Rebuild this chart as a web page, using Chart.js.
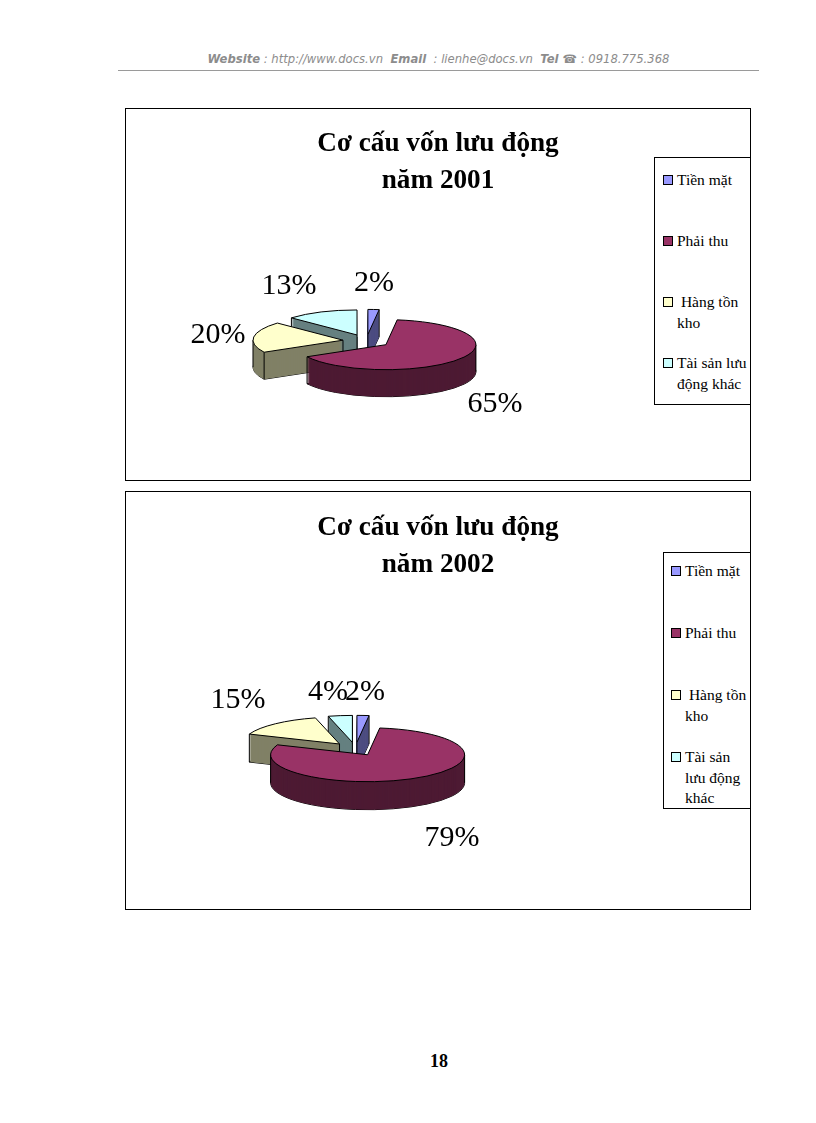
<!DOCTYPE html>
<html lang="vi">
<head>
<meta charset="utf-8">
<title>Cơ cấu vốn lưu động</title>
<script src="https://cdn.jsdelivr.net/npm/chart.js@4"></script>
<style>
    html, body { margin: 0; padding: 0; background: #fff; }
    body { position: relative; width: 816px; height: 1123px; overflow: hidden; font-family: "Liberation Serif", serif; color: #000; }
    .header { position: absolute; left: 118px; width: 641px; top: 52px; height: 18px; text-align: center; font: italic 11.6px "DejaVu Sans", sans-serif; color: #8c8c8c; white-space: pre; }
    .rule { position: absolute; left: 118px; width: 641px; top: 70px; height: 1px; background: #9a9a9a; }
    .box { position: absolute; left: 125px; width: 624px; border: 1px solid #000; }
    .box canvas { position: absolute; left: 0; top: 0; }
    .legend { position: absolute; background: #fff; border: 1px solid #000; border-right: 0; box-sizing: border-box; }
    .legend span { position: absolute; font-size: 15.5px; line-height: 18px; white-space: pre; }
    .legend i { position: absolute; width: 8px; height: 8px; border: 1px solid #000; }
    .page { position: absolute; left: 0; width: 878px; top: 1051px; text-align: center; font: bold 18px "Liberation Serif", serif; }
</style>
</head>
<body>
<div class="header"><b>Website</b> : http://www.docs.vn  <b>Email</b>  : lienhe@docs.vn  <b>Tel ☎</b> : 0918.775.368</div>
<div class="rule"></div>

<div class="box" id="box1" style="top:108px;height:371px"><canvas id="chart1" width="624" height="371"></canvas></div>
<div class="box" id="box2" style="top:491px;height:417px"><canvas id="chart2" width="624" height="417"></canvas></div>

<div class="page">18</div>

<script>
const categories = ['Tiền mặt', 'Phải thu', 'Hàng tồn kho', 'Tài sản lưu động khác'];
const values2001 = [2, 65, 20, 13];
const values2002 = [2, 79, 15, 4];
const colors = ['#9999ff', '#993366', '#ffffcc', '#ccffff'];
const sideColors = ['#4d4d80', '#4d1a33', '#808066', '#668080'];
const titles2001 = ['Cơ cấu vốn lưu động', 'năm 2001'];
const titles2002 = ['Cơ cấu vốn lưu động', 'năm 2002'];

// legend text is broken by hand, like in the picture
const legendLines2001 = [['Tiền mặt'], ['Phải thu'], [' Hàng tồn', 'kho'], ['Tài sản lưu', 'động khác']];
const legendLines2002 = [['Tiền mặt'], ['Phải thu'], [' Hàng tồn', 'kho'], ['Tài sản', 'lưu động', 'khác']];

// Chart.js has no 3D pie, so this plugin takes over the drawing of the arcs:
// squashes them, pulls the slices out and stacks darker copies for the side
const pie3d = {
    id: 'pie3d',
    beforeDatasetsDraw(chart, args, opts) {
        const ctx = chart.ctx;
        const arcs = chart.getDatasetMeta(0).data;
        const k = opts.squash;

        opts.order.forEach(i => {
            const arc = arcs[i];
            const mid = (arc.startAngle + arc.endAngle) / 2;
            const x = opts.center[0] + Math.cos(mid) * opts.explode;
            const y = opts.center[1] + Math.sin(mid) * opts.explode * k;
            const r = arc.outerRadius;

            const fill = (dy, color) => {
                const flat = Object.create(arc);
                flat.options = Object.assign({}, arc.options, { backgroundColor: color, borderWidth: 0 });
                ctx.save();
                ctx.translate(x, y + dy);
                ctx.scale(1, k);
                ctx.translate(-arc.x, -arc.y);
                flat.draw(ctx);
                ctx.restore();
            };
            const outline = (dy) => {
                ctx.beginPath();
                ctx.moveTo(x, y + dy);
                ctx.ellipse(x, y + dy, r, r * k, 0, arc.startAngle, arc.endAngle);
                ctx.closePath();
                ctx.stroke();
            };
            const edge = (px, py) => {
                ctx.beginPath();
                ctx.moveTo(px, py);
                ctx.lineTo(px, py + opts.depth);
                ctx.stroke();
            };
            const rimEdge = (a) => edge(x + Math.cos(a) * r, y + Math.sin(a) * r * k);

            ctx.strokeStyle = '#000';
            ctx.lineWidth = 1;
            outline(opts.depth);
            for (let d = opts.depth; d > 0; d--) fill(d, sideColors[i]);

            // upright edges of the cut faces and of the rim
            const cutVisible = Math.cos(arc.startAngle) < 0 || Math.cos(arc.endAngle) > 0;
            if (cutVisible) edge(x, y);
            [arc.startAngle, arc.endAngle].forEach((a, n) => {
                const faceShown = n === 0 ? Math.cos(a) < 0 : Math.cos(a) > 0;
                if (faceShown || Math.sin(a) > 0) rimEdge(a);
            });
            [0, Math.PI, 2 * Math.PI].forEach(a => {
                if (a > arc.startAngle && a < arc.endAngle) rimEdge(a);
            });

            fill(0, colors[i]);
            outline(0);
        });

        // percent labels
        ctx.save();
        ctx.fillStyle = '#000';
        ctx.font = '30px "Liberation Serif", serif';
        ctx.textAlign = 'center';
        ctx.textBaseline = 'middle';
        opts.labelAt.forEach((p, i) => {
            ctx.fillText(chart.data.datasets[0].data[i] + '%', p[0], p[1]);
        });
        ctx.restore();
        return false;
    }
};

function makePie(canvasId, values, title, pieOpts) {
    return new Chart(document.getElementById(canvasId), {
        type: 'pie',
        data: {
            labels: categories,
            datasets: [{ data: values, backgroundColor: colors, borderWidth: 0 }]
        },
        options: {
            responsive: false,
            animation: false,
            events: [],
            radius: pieOpts.radius,
            plugins: {
                legend: { display: false },
                tooltip: { enabled: false },
                title: {
                    display: true,
                    text: title,
                    color: '#000',
                    font: { family: '"Liberation Serif", serif', size: 27.2, weight: 'bold', lineHeight: 37 / 27.2 },
                    padding: { top: pieOpts.titleTop, bottom: 0 }
                },
                pie3d: pieOpts
            }
        },
        plugins: [pie3d]
    });
}

function makeLegend(boxId, lines, box, rows) {
    const legend = document.createElement('div');
    legend.className = 'legend';
    legend.style.cssText = `left:${box.left}px;top:${box.top}px;width:${box.width}px;height:${box.height}px`;
    lines.forEach((row, i) => {
        const swatch = document.createElement('i');
        swatch.style.cssText = `left:${box.swatchX}px;top:${rows[i] - 5}px;background:${colors[i]}`;
        legend.appendChild(swatch);
        row.forEach((text, j) => {
            const span = document.createElement('span');
            span.textContent = text;
            span.style.cssText = `left:${box.textX}px;top:${rows[i] + j * box.leading - 9}px`;
            legend.appendChild(span);
        });
    });
    document.getElementById(boxId).appendChild(legend);
}

makePie('chart1', values2001, titles2001, {
    radius: 90, squash: 0.278, explode: 23.6, depth: 27, titleTop: 16,
    center: [240.4, 232],
    order: [0, 3, 2, 1],
    labelAt: [[248, 174], [369, 295], [92, 226], [163, 177]]
});
makePie('chart2', values2002, titles2002, {
    radius: 97, squash: 0.278, explode: 24, depth: 28, titleTop: 17,
    center: [229.4, 257],
    order: [0, 3, 2, 1],
    labelAt: [[239, 200], [326, 346], [112, 208], [202, 200]]
});

makeLegend('box1', legendLines2001,
    { left: 528, top: 48, width: 96, height: 248, swatchX: 8, textX: 22, leading: 20.5 },
    [22, 83, 144, 205]);
makeLegend('box2', legendLines2002,
    { left: 537, top: 60, width: 87, height: 257, swatchX: 7, textX: 21, leading: 20.5 },
    [18, 80, 142, 204]);
</script>
</body>
</html>
